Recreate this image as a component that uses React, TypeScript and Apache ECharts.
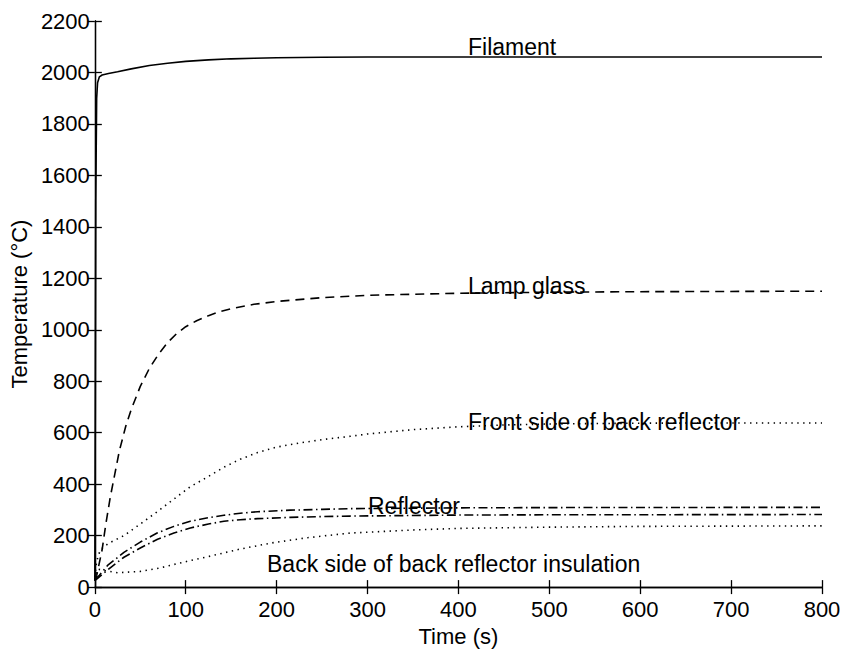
import React, { useEffect, useRef } from "react";
import * as echarts from "echarts";

const xTicks = [0, 100, 200, 300, 400, 500, 600, 700, 800];
const yTicks = [0, 200, 400, 600, 800, 1000, 1200, 1400, 1600, 1800, 2000, 2200];

const filamentTime = [0, 0.5, 1, 2, 3, 5, 8, 15, 25, 40, 60, 80, 100, 125, 150, 175, 200, 250, 300, 400, 800];
const filamentTemp = [25, 700, 1500, 1900, 1960, 1983, 1990, 1996, 2003, 2014, 2027, 2036, 2043, 2049, 2053, 2055, 2057, 2059, 2060, 2060, 2060];

const lampTime = [0, 2, 5, 8, 12, 17, 22, 27, 34, 40, 50, 60, 70, 80, 90, 100, 112, 125, 137, 150, 175, 200, 250, 300, 400, 500, 600, 800];
const lampTemp = [25, 45, 95, 145, 243, 350, 440, 530, 625, 690, 780, 850, 905, 950, 985, 1012, 1035, 1055, 1070, 1082, 1099, 1110, 1125, 1134, 1142, 1146, 1148, 1150];

const frontTime = [0, 2, 6, 15, 32, 50, 69, 88, 105, 125, 142, 160, 179, 200, 225, 252, 281, 300, 350, 400, 450, 500, 600, 700, 800];
const frontTemp = [40, 100, 145, 170, 200, 245, 294, 345, 390, 430, 466, 497, 523, 544, 560, 574, 586, 595, 612, 623, 630, 634, 637, 638, 638];

const reflATime = [0, 5, 14, 32, 50, 69, 87, 105, 125, 142, 160, 179, 215, 250, 281, 400, 500, 800];
const reflATemp = [30, 46, 84, 135, 175, 211, 236, 256, 270, 279, 287, 293, 299, 302, 305, 308, 309, 310];

const reflBTime = [0, 5, 18, 32, 50, 69, 87, 105, 125, 142, 160, 179, 215, 250, 281, 400, 500, 800];
const reflBTemp = [25, 40, 78, 116, 152, 186, 210, 230, 245, 256, 262, 266, 271, 274, 276, 280, 281, 282];

const backTime = [0, 3, 10, 25, 50, 70, 87, 105, 124, 142, 160, 179, 197, 234, 281, 350, 400, 500, 600, 800];
const backTemp = [30, 70, 65, 56, 61, 73, 88, 103, 118, 133, 148, 161, 173, 192, 210, 222, 228, 233, 236, 238];

const labels = ["Filament", "Lamp glass", "Front side of back reflector", "Reflector", "Back side of back reflector insulation"];

const pairs = (t: number[], v: number[]) => t.map((x, i) => [x, v[i]]);

const FONT = '"Liberation Sans", Arial, Helvetica, sans-serif';

export default function App() {
  const ref = useRef<HTMLDivElement>(null);
  useEffect(() => {
    if (!ref.current) return;
    const chart = echarts.init(ref.current, null, { renderer: "svg" });
    const lineSeries = (name: string, t: number[], v: number[], type: any) => ({
      name,
      type: "line",
      data: pairs(t, v),
      showSymbol: false,
      symbol: "none",
      smooth: false,
      lineStyle: { color: "#000", width: 1.6, type },
      silent: true,
    });
    const axisCommon = {
      min: 0,
      axisLine: { show: true, lineStyle: { color: "#000", width: 1.3 } },
      axisTick: { show: true, inside: true, length: 7, lineStyle: { color: "#000", width: 1.3 } },
      splitLine: { show: false },
    };
    const labelStyle = { color: "#000", fontSize: 22, fontFamily: FONT };
    const txt = (text: string, x: number, y: number) => ({
      type: "text",
      x,
      y,
      z: 100,
      style: { text, fill: "#000", font: `23px ${FONT}`, align: "left", verticalAlign: "middle" },
    });
    chart.setOption({
      animation: false,
      backgroundColor: "#fff",
      grid: { left: 94, top: 21, width: 728, height: 576 },
      xAxis: [
        {
          ...axisCommon,
          type: "value",
          max: 800,
          interval: 100,
          position: "bottom",
          name: "Time (s)",
          nameLocation: "middle",
          nameGap: 34,
          nameTextStyle: { color: "#000", fontSize: 22, fontFamily: FONT },
          axisLabel: { ...labelStyle, margin: 11, formatter: (v: number) => (xTicks.includes(v) ? String(v) : "") },
        },
        {
          ...axisCommon,
          type: "value",
          max: 800,
          interval: 100,
          position: "top",
          axisLabel: { show: false },
        },
      ],
      yAxis: [
        {
          ...axisCommon,
          type: "value",
          max: 2200,
          interval: 200,
          position: "left",
          name: "Temperature (°C)",
          nameLocation: "middle",
          nameRotate: 90,
          nameGap: 60,
          nameTextStyle: { color: "#000", fontSize: 22, fontFamily: FONT },
          axisLabel: { ...labelStyle, margin: 5, formatter: (v: number) => (yTicks.includes(v) ? String(v) : "") },
        },
        {
          ...axisCommon,
          type: "value",
          max: 2200,
          interval: 200,
          position: "right",
          axisLabel: { show: false },
        },
      ],
      series: [
        lineSeries(labels[0], filamentTime, filamentTemp, "solid"),
        lineSeries(labels[1], lampTime, lampTemp, [9, 6]),
        lineSeries(labels[2], frontTime, frontTemp, [1.4, 4.5]),
        lineSeries(labels[3], reflATime, reflATemp, [9, 3.5, 1.5, 3.5]),
        lineSeries(labels[3] + " 2", reflBTime, reflBTemp, [9, 3.5, 1.5, 3.5]),
        lineSeries(labels[4], backTime, backTemp, [1.4, 4.5]),
      ],
      graphic: [
        txt(labels[0], 468, 47),
        txt(labels[1], 468, 286),
        txt(labels[2], 468, 422),
        txt(labels[3], 368, 506),
        txt(labels[4], 267, 564),
      ],
    });
    return () => chart.dispose();
  }, []);
  return (
    <div
      ref={ref}
      style={{ position: "fixed", left: 0, top: 0, width: 844, height: 652, background: "#fff" }}
    />
  );
}
